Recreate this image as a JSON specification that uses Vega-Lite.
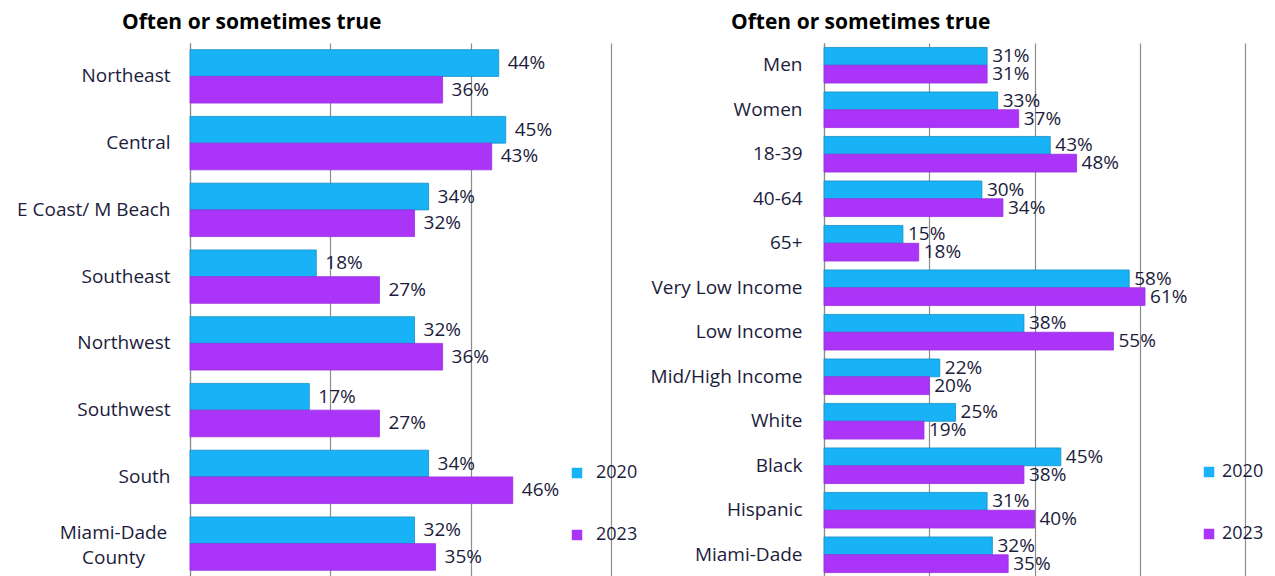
{
  "$schema": "https://vega.github.io/schema/vega-lite/v6.json",
  "background": "white",
  "padding": {"left": 5, "top": 12, "right": 5, "bottom": 0},
  "bounds": "flush",
  "spacing": 213,
  "config": {
    "view": {"stroke": null},
    "font": "Open Sans",
    "title": {"fontSize": 21, "fontWeight": "bold", "color": "#000000", "anchor": "start", "frame": "group", "offset": 10},
    "axisY": {"title": null, "ticks": false, "labelFontSize": 19, "labelColor": "#1c1c3c", "domainColor": "#8c8c8c", "domainWidth": 1.2, "grid": false, "labelLimit": 220},
    "axisX": {"title": null, "ticks": false, "labels": false, "domain": false, "grid": true, "gridColor": "#8c8c8c", "gridWidth": 1.2},
    "legend": {"title": null, "orient": "none", "symbolType": "square", "symbolSize": 110, "symbolStrokeWidth": 0, "labelFontSize": 18, "labelColor": "#1c1c3c", "rowPadding": 44, "labelOffset": 10}
  },
  "resolve": {"scale": {"color": "independent", "stroke": "independent", "x": "independent", "y": "independent", "yOffset": "independent"}, "legend": {"color": "independent"}},
  "hconcat": [
    {
      "title": {"text": "Often or sometimes true", "dx": -68},
      "width": 421,
      "height": 534,
      "data": {"values": [
        {"group": "Northeast", "year": "2020", "value": 0.44},
        {"group": "Northeast", "year": "2023", "value": 0.36},
        {"group": "Central", "year": "2020", "value": 0.45},
        {"group": "Central", "year": "2023", "value": 0.43},
        {"group": "E Coast/ M Beach", "year": "2020", "value": 0.34},
        {"group": "E Coast/ M Beach", "year": "2023", "value": 0.32},
        {"group": "Southeast", "year": "2020", "value": 0.18},
        {"group": "Southeast", "year": "2023", "value": 0.27},
        {"group": "Northwest", "year": "2020", "value": 0.32},
        {"group": "Northwest", "year": "2023", "value": 0.36},
        {"group": "Southwest", "year": "2020", "value": 0.17},
        {"group": "Southwest", "year": "2023", "value": 0.27},
        {"group": "South", "year": "2020", "value": 0.34},
        {"group": "South", "year": "2023", "value": 0.46},
        {"group": "Miami-Dade County", "year": "2020", "value": 0.32},
        {"group": "Miami-Dade County", "year": "2023", "value": 0.35}
      ]},
      "encoding": {
        "y": {"field": "group", "type": "nominal", "sort": null,
              "scale": {"paddingInner": 0.2, "paddingOuter": 0.1},
              "axis": {"minExtent": 185, "maxExtent": 185, "labelLineHeight": 25,
                       "labelPadding": {"condition": {"test": "datum.value == 'Miami-Dade County'", "value": 77}, "value": 20},
                       "labelAlign": {"condition": {"test": "datum.value == 'Miami-Dade County'", "value": "center"}, "value": "right"},
                       "labelOffset": {"condition": {"test": "datum.value == 'Miami-Dade County'", "value": -11}, "value": 0},
                       "labelExpr": "datum.label == 'Miami-Dade County' ? ['Miami-Dade', 'County'] : datum.label"}},
        "yOffset": {"field": "year", "type": "nominal"},
        "x": {"field": "value", "type": "quantitative", "scale": {"domain": [0, 0.6], "nice": false},
              "axis": {"values": [0, 0.2, 0.4, 0.6]}}
      },
      "layer": [
        {"mark": {"type": "bar", "strokeWidth": 0.8},
         "encoding": {"color": {"field": "year", "type": "nominal",
                                "scale": {"domain": ["2020", "2023"], "range": ["#18b2f6", "#aa35f8"]},
                                "legend": {"legendX": 378, "legendY": 421, "labelOffset": 10}},
                      "stroke": {"field": "year", "type": "nominal",
                                 "scale": {"domain": ["2020", "2023"], "range": ["#1590c6", "#9a2ee0"]},
                                 "legend": null}}},
        {"mark": {"type": "text", "align": "left", "baseline": "middle", "dx": 9, "fontSize": 19, "color": "#1c1c3c"},
         "encoding": {"text": {"field": "value", "type": "quantitative", "format": ".0%"}}}
      ]
    },
    {
      "title": {"text": "Often or sometimes true", "dx": -93},
      "width": 421,
      "height": 534,
      "data": {"values": [
        {"group": "Men", "year": "2020", "value": 0.31},
        {"group": "Men", "year": "2023", "value": 0.31},
        {"group": "Women", "year": "2020", "value": 0.33},
        {"group": "Women", "year": "2023", "value": 0.37},
        {"group": "18-39", "year": "2020", "value": 0.43},
        {"group": "18-39", "year": "2023", "value": 0.48},
        {"group": "40-64", "year": "2020", "value": 0.30},
        {"group": "40-64", "year": "2023", "value": 0.34},
        {"group": "65+", "year": "2020", "value": 0.15},
        {"group": "65+", "year": "2023", "value": 0.18},
        {"group": "Very Low Income", "year": "2020", "value": 0.58},
        {"group": "Very Low Income", "year": "2023", "value": 0.61},
        {"group": "Low Income", "year": "2020", "value": 0.38},
        {"group": "Low Income", "year": "2023", "value": 0.55},
        {"group": "Mid/High Income", "year": "2020", "value": 0.22},
        {"group": "Mid/High Income", "year": "2023", "value": 0.20},
        {"group": "White", "year": "2020", "value": 0.25},
        {"group": "White", "year": "2023", "value": 0.19},
        {"group": "Black", "year": "2020", "value": 0.45},
        {"group": "Black", "year": "2023", "value": 0.38},
        {"group": "Hispanic", "year": "2020", "value": 0.31},
        {"group": "Hispanic", "year": "2023", "value": 0.40},
        {"group": "Miami-Dade", "year": "2020", "value": 0.32},
        {"group": "Miami-Dade", "year": "2023", "value": 0.35}
      ]},
      "encoding": {
        "y": {"field": "group", "type": "nominal", "sort": null,
              "scale": {"paddingInner": 0.2, "paddingOuter": 0.1},
              "axis": {"labelPadding": 22}},
        "yOffset": {"field": "year", "type": "nominal"},
        "x": {"field": "value", "type": "quantitative", "scale": {"domain": [0, 0.8], "nice": false},
              "axis": {"values": [0, 0.2, 0.4, 0.6, 0.8]}}
      },
      "layer": [
        {"mark": {"type": "bar", "strokeWidth": 0.8},
         "encoding": {"color": {"field": "year", "type": "nominal",
                                "scale": {"domain": ["2020", "2023"], "range": ["#18b2f6", "#aa35f8"]},
                                "legend": {"legendX": 376, "legendY": 420, "labelOffset": 4}},
                      "stroke": {"field": "year", "type": "nominal",
                                 "scale": {"domain": ["2020", "2023"], "range": ["#1590c6", "#9a2ee0"]},
                                 "legend": null}}},
        {"mark": {"type": "text", "align": "left", "baseline": "middle", "dx": 5, "fontSize": 19, "color": "#1c1c3c"},
         "encoding": {"text": {"field": "value", "type": "quantitative", "format": ".0%"}}}
      ]
    }
  ]
}
